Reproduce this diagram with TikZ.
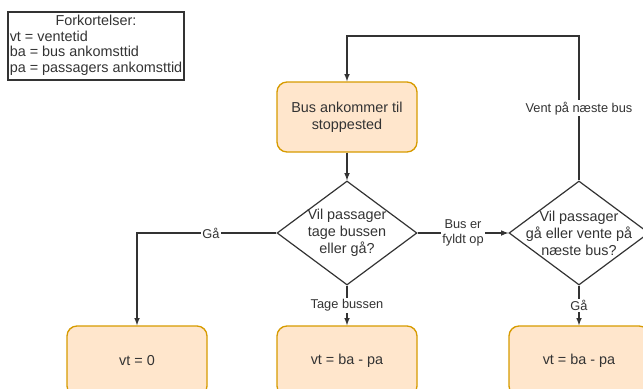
\documentclass[tikz,border=0pt]{standalone}
\usepackage{fontspec}
\setmainfont{Liberation Sans}
\usetikzlibrary{shapes.geometric}
\definecolor{boxfill}{HTML}{FFE6CC}
\definecolor{boxline}{HTML}{D79B00}
\definecolor{edgegray}{HTML}{333333}
\tikzset{
	trin/.style={draw=boxline,fill=boxfill,rounded corners=7.5pt,line width=1pt,minimum width=105pt,minimum height=52.5pt,align=center,text=edgegray},
	valg/.style={diamond,draw=edgegray,line width=0.9pt,minimum width=105pt,minimum height=78pt,inner sep=0pt,text=edgegray},
	pil/.style={->,>=latex,draw=edgegray,line width=0.9pt},
	tekst/.style={fill=white,inner sep=1pt,text=edgegray,align=center,font=\fontsize{9.6}{11}\selectfont}
}
\begin{document}
\begin{tikzpicture}[x=0.75pt,y=-0.75pt,font=\fontsize{10.8}{12.8}\selectfont]
	\useasboundingbox (0,0) rectangle (643,389);
	\clip (0,0) rectangle (643,389);
	\node[draw=edgegray,line width=1.2pt,minimum width=132pt,minimum height=51pt,inner sep=1pt,text=edgegray] (forkort) at (96,46) {\renewcommand{\arraystretch}{0.92}\begin{tabular}{@{}l@{}}\multicolumn{1}{@{}c@{}}{Forkortelser:}\\vt = ventetid\\ba = bus ankomsttid\\pa = passagers ankomsttid\end{tabular}};
	\node[trin] (ankomst) at (347,117) {Bus ankommer til\\stoppested};
	\node[valg,label={[align=center,text=edgegray]center:Vil passager\\tage bussen\\eller gå?}] (tage) at (347,233) {};
	\node[valg,label={[align=center,text=edgegray]center:Vil passager\\gå eller vente på\\næste bus?}] (vente) at (579,233) {};
	\node[trin] (nul) at (137,361) {vt = 0};
	\node[trin] (midt) at (347,361) {vt = ba - pa};
	\node[trin] (hojre) at (579,361) {vt = ba - pa};
	\coordinate (hjorne) at (nul.north |- tage.west);
	\coordinate (topV) at (vente.north |- 0,36);
	\coordinate (topA) at (ankomst.north |- 0,36);
	\draw[pil] (ankomst) -- (tage);
	\draw[pil] (tage.west) -- node[tekst,pos=0.47]{Gå} (hjorne) -- (nul);
	\draw[pil] (tage) -- node[tekst,pos=0.5]{Tage bussen} (midt);
	\draw[pil] (tage) -- node[tekst]{Bus er\\fyldt op} (vente);
	\draw[pil] (vente) -- node[tekst,pos=0.5]{Gå} (hojre);
	\draw[pil] (vente.north) -- node[tekst,pos=0.5]{Vent på næste bus} (topV) -- (topA) -- (ankomst);
\end{tikzpicture}
\end{document}
